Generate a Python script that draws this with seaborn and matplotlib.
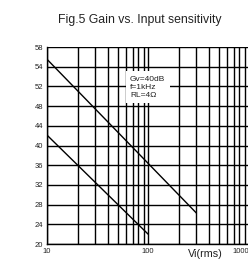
import matplotlib
matplotlib.use("Agg")
import matplotlib.pyplot as plt
from matplotlib.ticker import FixedLocator, NullFormatter
import pandas as pd
import seaborn as sns

# data
vi_upper = [10, 300]
gain_upper = [57.5, 26.3]
vi_lower = [10, 100]
gain_lower = [42.1, 22.0]
ytick_pos = [20, 24, 28, 32, 36, 40, 44, 48, 52, 56, 60]
ytick_lab = ["20", "24", "28", "32", "36", "40", "44", "48", "52", "54", "58"]
xtick_pos = [10, 100, 1000]
xtick_lab = ["10", "100", "1000"]

df = pd.DataFrame({
    "vi": vi_upper + vi_lower,
    "gain": gain_upper + gain_lower,
    "curve": ["a"] * len(vi_upper) + ["b"] * len(vi_lower),
})

sns.set_style("white")
plt.rcParams["font.family"] = ["Liberation Sans", "DejaVu Sans"]

fig = plt.figure(figsize=(2.48, 2.63), dpi=100)
ax = fig.add_axes([0.19, 0.072, 0.815, 0.749])

sns.lineplot(data=df, x="vi", y="gain", units="curve", estimator=None,
             color="black", lw=1.0, ax=ax)

ax.set_xscale("log")
ax.set_xlim(10, 1000)
ax.set_ylim(20, 60)
ax.xaxis.set_major_locator(FixedLocator(xtick_pos))
ax.set_xticklabels(xtick_lab)
ax.get_xticklabels()[-1].set_ha("right")
minor = [k * d for d in (10, 100) for k in range(2, 10)]
ax.xaxis.set_minor_locator(FixedLocator(minor))
ax.xaxis.set_minor_formatter(NullFormatter())
ax.set_yticks(ytick_pos)
ax.set_yticklabels(ytick_lab)
ax.tick_params(axis="both", which="both", length=0, labelsize=5.5, pad=3, colors="#222222")

ax.grid(True, which="both", axis="x", color="black", lw=1.0)
ax.grid(True, which="major", axis="y", color="black", lw=1.0)
for s in ["left", "bottom"]:
    ax.spines[s].set_color("black")
    ax.spines[s].set_linewidth(1.0)
for s in ["top", "right"]:
    ax.spines[s].set_visible(False)

ax.set_xlabel("")
ax.set_ylabel("")

ax.text(0.41, 0.855, "Gv=40dB\nf=1kHz\nRL=4\u03a9", transform=ax.transAxes,
        fontsize=6, va="top", ha="left", linespacing=1.2, color="#222222",
        bbox=dict(facecolor="white", edgecolor="none", pad=3))

fig.text(0.565, 0.925, "Fig.5 Gain vs. Input sensitivity", ha="center", va="center",
         fontsize=8.8, color="#222222")
fig.text(0.826, 0.035, "Vi(rms)", ha="center", va="center", fontsize=7.8,
         color="#222222")

fig.savefig("out.png", dpi=100)
